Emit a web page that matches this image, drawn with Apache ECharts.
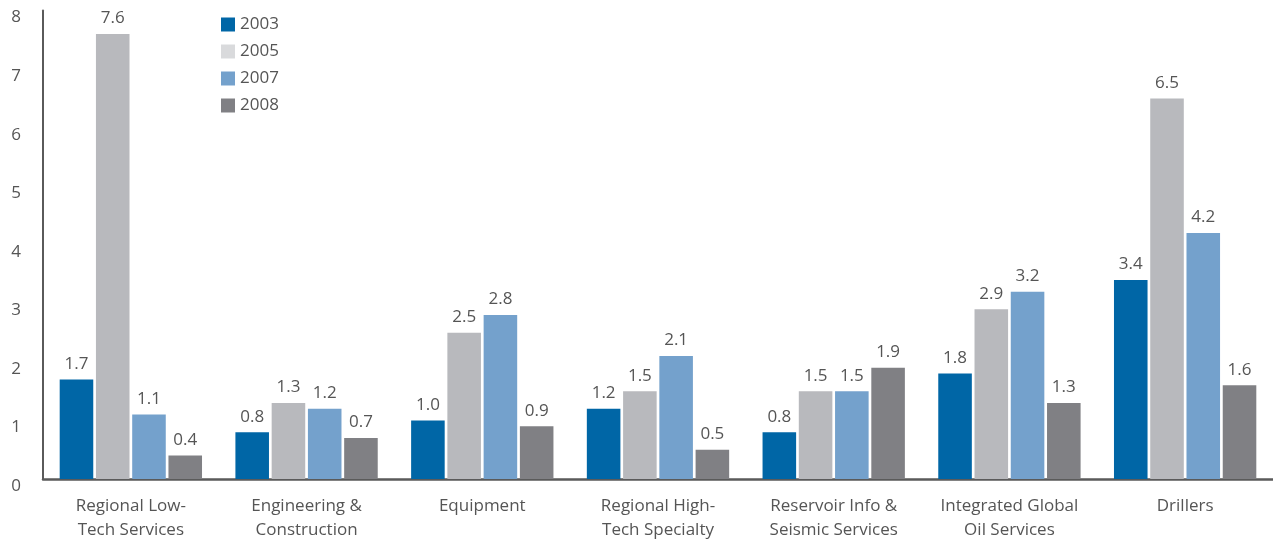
<!DOCTYPE html>
<html><head><meta charset="utf-8">
<script src="https://cdn.jsdelivr.net/npm/echarts@6/dist/echarts.min.js"></script>
<style>html,body{margin:0;padding:0;background:#fff}#c{width:1273px;height:542px}</style>
</head><body><div id="c"></div>
<script>
const categories = ["Regional Low-\nTech Services","Engineering &\nConstruction","Equipment","Regional High-\nTech Specialty","Reservoir Info &\nSeismic Services","Integrated Global\nOil Services","Drillers"];
const seriesNames = ["2003","2005","2007","2008"];
const v2003 = [1.7,0.8,1.0,1.2,0.8,1.8,3.4];
const v2005 = [7.6,1.3,2.5,1.5,1.5,2.9,6.5];
const v2007 = [1.1,1.2,2.8,2.1,1.5,3.2,4.2];
const v2008 = [0.4,0.7,0.9,0.5,1.9,1.3,1.6];
const yTicks = [0,1,2,3,4,5,6,7,8];

const colors = ["#0066a6","#b8b9bd","#74a1cc","#808084"];
const legendColors = ["#0066a6","#d9dadc","#74a1cc","#808084"];
const font = "'Open Sans', 'Noto Sans', sans-serif";
const values = [v2003,v2005,v2007,v2008];
const chart = echarts.init(document.getElementById('c'));
chart.setOption({
  animation:false,
  textStyle:{fontFamily:font},
  grid:{left:43,width:1234,top:10.6,bottom:61,containLabel:false},
  legend:{
    orient:'vertical', left:216, top:10, itemWidth:14, itemHeight:14, itemGap:8,
    icon:'rect',
    textStyle:{fontSize:17,color:'#555',fontFamily:font,lineHeight:19},
    data: seriesNames.map((n,i)=>({name:n,itemStyle:{color:legendColors[i]}}))
  },
  xAxis:{
    type:'category', data:categories,
    axisLine:{lineStyle:{color:'#5a5a5a',width:2.5}},
    axisTick:{show:false},
    axisLabel:{fontSize:17,color:'#555',lineHeight:24,margin:15,interval:0,fontFamily:font}
  },
  yAxis:{
    type:'value', min:yTicks[0], max:yTicks[yTicks.length-1], interval:1,
    splitLine:{show:false},
    axisLine:{show:true,lineStyle:{color:'#5a5a5a',width:2}},
    axisTick:{show:false},
    axisLabel:{fontSize:17,color:'#555',margin:22,verticalAlign:'top',lineHeight:14,fontFamily:font}
  },
  series: seriesNames.map((n,i)=>({
    name:n, type:'bar', data:values[i],
    barCategoryGap:'19%', barGap:'8%',
    itemStyle:{color:colors[i]},
    label:{show:true,position:'top',distance:7,fontSize:17,color:'#555',fontFamily:font,
      formatter:p=>p.value.toFixed(1)}
  }))
});
</script></body></html>
